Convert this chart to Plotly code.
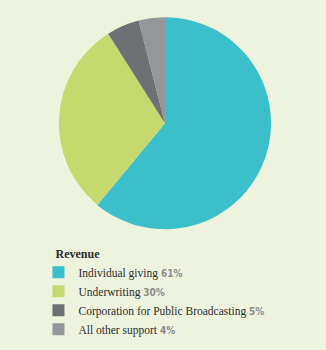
import plotly.graph_objects as go

labels = ["Individual giving", "Underwriting", "Corporation for Public Broadcasting", "All other support"]
values = [61, 30, 5, 4]
colors = ["#3BBFCB", "#C6D96E", "#6F7074", "#949699"]
legend_title = "Revenue"

bg = "#EEF3DE"

legend_names = [
    f"{l} <span style='font-family:DejaVu Sans Condensed;font-size:10px;color:#8C8C8C;font-weight:bold'>{v}%</span>"
    for l, v in zip(labels, values)
]

fig = go.Figure(go.Pie(
    labels=legend_names,
    values=values,
    marker=dict(colors=colors, line=dict(width=0)),
    sort=False,
    direction="clockwise",
    rotation=0,
    textinfo="none",
    hoverinfo="label+percent",
    domain=dict(x=[0.178, 0.834], y=[0.345, 0.951]),
))

fig.update_layout(
    width=326, height=350,
    margin=dict(l=0, r=0, t=0, b=0),
    paper_bgcolor=bg, plot_bgcolor=bg,
    font=dict(family="Liberation Serif", size=11.5, color="#2B2B2B"),
    showlegend=True,
    legend=dict(
        title=dict(text="&nbsp;&nbsp;&nbsp;&nbsp;&nbsp;<b>" + legend_title + "</b>",
                   font=dict(size=12, color="#2B2B2B")),
        x=0.118, y=0.308, xanchor="left", yanchor="top",
        bgcolor="rgba(0,0,0,0)", tracegroupgap=0,
        itemclick=False, itemdoubleclick=False,
    ),
)

fig.write_html("out.html")
